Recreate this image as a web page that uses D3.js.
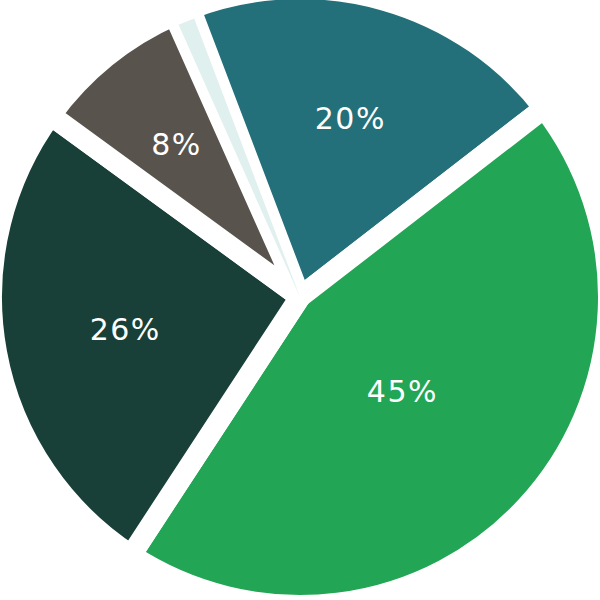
<!DOCTYPE html>
<html lang="en">
  <head>
    <meta charset="utf-8">
    <title>Pie</title>
    <script src="https://d3js.org/d3.v7.min.js"></script>
    <style>
      body { margin: 0; background: #fff; }
    </style>
  </head>
  <body>
    <script type="text/javascript">

      var segments = ["Teal", "Green", "Dark green", "Grey", "Light"];
      var values = [20.3, 44.7, 25.8, 8.3, 0.9];
      var labels = ["20%", "45%", "26%", "8%", ""];
      var colors = ["#23707a", "#22a554", "#184038", "#58534c", "#dff0ee"];

      var w = 600;
      var h = 600;
      var cx = 300, cy = 297;
      var radius = 298;   // visible radius
      var gap = 21;       // white gap between slices

      var svg = d3.select("body")
                  .append("svg")
                  .attr("width", w)
                  .attr("height", h);

      var g = svg.append("g")
                 .attr("transform", "translate(" + cx + "," + cy + ")");

      var start = -20.8 * Math.PI / 180;
      var pie = d3.pie()
                  .sort(null)
                  .value(d => d.value)
                  .startAngle(start)
                  .endAngle(start + 2 * Math.PI);

      var data = segments.map((s, i) => ({name: s, value: values[i], label: labels[i], color: colors[i]}));
      var arcs = pie(data);

      var arc = d3.arc().innerRadius(0).outerRadius(radius + gap / 2);
      var thinArc = d3.arc().innerRadius(0).outerRadius(radius);

      // big slices get the thick white outline, the sliver sits on top without one
      g.selectAll("path.big")
       .data(arcs.filter(d => d.data.value >= 2))
       .enter()
       .append("path")
       .attr("class", "big")
       .attr("d", arc)
       .attr("fill", d => d.data.color)
       .attr("stroke", "#fff")
       .attr("stroke-width", gap)
       .attr("stroke-linejoin", "round");

      g.selectAll("path.small")
       .data(arcs.filter(d => d.data.value < 2))
       .enter()
       .append("path")
       .attr("class", "small")
       .attr("d", thinArc)
       .attr("fill", d => d.data.color);

      // labels at the area centroid of each sector
      function labelR(d) {
        var a = (d.endAngle - d.startAngle) / 2;
        return 2 / 3 * radius * Math.sin(a) / a;
      }
      var labelArc = d3.arc().innerRadius(labelR).outerRadius(labelR);

      g.selectAll("text")
       .data(arcs.filter(d => d.data.label))
       .enter()
       .append("text")
       .attr("transform", d => "translate(" + labelArc.centroid(d) + ")")
       .attr("text-anchor", "middle")
       .attr("dy", "0.36em")
       .attr("fill", "#fff")
       .style("font-family", "DejaVu Sans, sans-serif")
       .style("font-size", "30px")
       .style("letter-spacing", "1.5px")
       .text(d => d.data.label);

    </script>
  </body>
</html>
